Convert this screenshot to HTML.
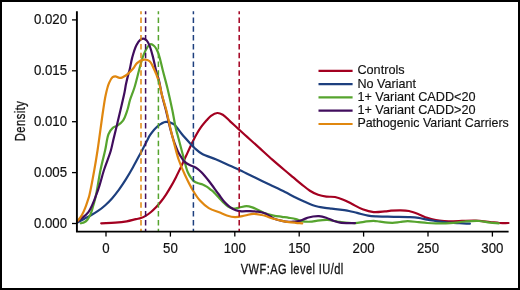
<!DOCTYPE html>
<html><head><meta charset="utf-8"><style>
html,body{margin:0;padding:0;background:#fff;}
body{width:520px;height:290px;overflow:hidden;}
svg{display:block;font-family:"Liberation Sans",sans-serif;will-change:transform;}
</style></head><body>
<svg width="520" height="290" viewBox="0 0 520 290">
<rect x="1" y="1" width="518" height="288" fill="#fff" stroke="#000" stroke-width="2"/>
<g fill="none" stroke-width="2.2" stroke-linejoin="round" stroke-linecap="round">
<path d="M101.20,223.30 C105.90,223.10 110.85,223.07 115.30,222.70 C119.34,222.37 123.20,221.94 126.80,221.30 C130.05,220.72 133.39,219.72 136.00,219.13 C137.92,218.70 139.37,218.61 141.00,218.05 C142.70,217.46 144.37,216.59 146.00,215.62 C147.71,214.60 149.38,213.36 151.00,212.02 C152.71,210.61 154.38,209.02 156.00,207.33 C157.72,205.54 159.38,203.57 161.00,201.51 C162.72,199.33 164.38,196.99 166.00,194.55 C167.71,191.97 169.37,189.23 171.00,186.40 C172.71,183.43 174.36,180.31 176.00,177.13 C177.70,173.82 179.35,170.37 181.00,166.90 C182.69,163.35 184.33,159.69 186.00,156.08 C187.67,152.47 189.31,148.76 191.00,145.23 C192.64,141.81 194.26,138.33 196.00,135.22 C197.60,132.37 199.20,129.75 201.00,127.23 C202.75,124.78 204.80,122.32 206.60,120.30 C208.11,118.60 209.27,117.00 211.00,115.80 C212.81,114.54 215.25,113.12 217.30,113.00 C219.17,112.89 220.94,113.64 222.80,114.70 C225.28,116.12 227.81,119.24 230.40,121.60 C233.11,124.07 236.13,126.84 238.70,129.20 C240.95,131.26 243.02,133.19 245.00,135.00 C246.76,136.60 248.10,137.79 250.00,139.50 C252.52,141.77 255.54,144.46 258.80,147.40 C262.89,151.09 268.10,155.94 272.60,159.90 C276.82,163.61 281.27,167.36 285.00,170.50 C288.03,173.06 290.53,175.10 293.30,177.40 C296.07,179.70 298.81,182.07 301.60,184.30 C304.35,186.50 307.05,188.91 309.90,190.70 C312.56,192.37 315.29,193.81 318.10,194.80 C320.80,195.75 323.59,196.23 326.40,196.60 C329.23,196.97 332.19,196.49 335.00,197.00 C337.83,197.52 340.57,198.59 343.30,199.70 C346.11,200.84 348.64,202.33 351.60,203.80 C355.01,205.50 358.85,207.91 362.60,209.30 C366.22,210.64 369.96,211.75 373.70,212.10 C377.42,212.45 381.83,211.68 385.00,211.40 C387.32,211.19 388.76,210.88 391.00,210.70 C393.84,210.48 397.59,210.23 400.70,210.30 C403.58,210.36 406.17,210.42 409.00,211.00 C412.12,211.64 415.51,213.02 418.60,214.20 C421.57,215.33 424.29,216.91 427.20,217.90 C430.05,218.87 432.99,219.58 435.90,220.10 C438.76,220.61 441.64,220.80 444.50,221.00 C447.34,221.20 449.51,221.29 453.00,221.30 C458.62,221.31 468.37,220.40 475.00,220.60 C480.48,220.77 485.57,221.56 490.00,222.00 C493.53,222.35 496.37,222.84 499.50,223.00 C502.54,223.16 505.50,223.00 508.50,223.00" stroke="#a30020"/>
<path d="M77.40,222.54 C79.60,221.34 81.76,220.15 84.00,218.95 C86.30,217.72 88.69,216.58 91.00,215.26 C93.36,213.92 95.71,212.55 98.00,210.95 C100.38,209.29 102.73,207.47 105.00,205.45 C107.40,203.31 109.73,200.94 112.00,198.40 C114.41,195.70 116.73,192.73 119.00,189.63 C121.40,186.34 123.72,182.80 126.00,179.16 C128.39,175.34 130.70,171.31 133.00,167.22 C135.37,163.00 137.68,158.60 140.00,154.23 C142.35,149.80 145.15,144.31 147.00,140.80 C148.20,138.53 148.62,137.21 150.00,135.20 C151.89,132.44 154.94,128.37 157.80,126.10 C160.30,124.12 163.19,122.18 165.90,121.90 C168.42,121.64 171.73,123.00 173.50,124.00 C174.67,124.67 175.04,125.33 176.00,126.40 C177.59,128.18 179.56,131.30 181.80,134.00 C184.54,137.31 188.96,142.05 191.40,144.70 C192.88,146.30 193.54,147.19 195.00,148.50 C196.88,150.19 199.07,152.19 201.90,153.80 C205.60,155.90 211.12,157.34 215.70,159.30 C220.32,161.28 225.21,163.68 229.50,165.60 C233.23,167.27 236.21,168.45 240.00,170.20 C244.57,172.31 250.00,175.07 255.00,177.50 C260.00,179.93 265.00,182.37 270.00,184.80 C275.00,187.23 280.51,189.86 285.00,192.10 C288.68,193.93 291.78,195.61 295.00,197.20 C297.96,198.66 300.72,199.99 303.60,201.30 C306.45,202.59 309.55,204.04 312.20,205.00 C314.38,205.79 316.20,206.34 318.30,206.80 C320.46,207.28 322.76,207.50 325.00,207.80 C327.23,208.10 329.35,208.32 331.70,208.60 C334.32,208.91 337.46,209.30 340.00,209.60 C342.16,209.86 343.71,209.90 346.00,210.30 C349.15,210.85 353.41,212.02 357.10,212.90 C360.78,213.78 364.67,215.02 368.10,215.60 C371.04,216.10 373.61,216.23 376.40,216.40 C379.24,216.57 382.12,216.53 385.00,216.60 C387.92,216.67 390.42,216.73 393.80,216.80 C398.38,216.89 405.45,216.85 410.00,217.10 C413.32,217.28 415.75,217.47 418.60,217.90 C421.48,218.33 424.32,219.18 427.20,219.70 C430.08,220.22 432.91,220.58 435.90,221.00 C439.07,221.45 442.15,221.95 445.70,222.30 C449.90,222.72 455.22,222.96 459.50,223.20 C463.21,223.41 466.43,223.53 469.90,223.70" stroke="#1d3f7e"/>
<path d="M80.80,223.30 C81.97,222.97 83.22,222.87 84.30,222.30 C85.43,221.70 86.45,220.82 87.40,219.70 C88.57,218.32 89.60,216.41 90.50,214.40 C91.56,212.04 92.32,208.94 93.10,206.30 C93.84,203.81 94.50,201.46 95.10,199.00 C95.70,196.53 96.09,194.65 96.70,191.50 C97.74,186.18 99.06,177.02 100.50,170.00 C101.90,163.19 103.79,156.30 105.20,150.00 C106.46,144.38 106.91,137.97 108.60,134.00 C109.74,131.31 111.15,129.22 112.80,127.80 C114.16,126.63 115.86,126.62 117.40,125.60 C119.26,124.36 121.44,122.80 123.00,120.60 C124.93,117.88 126.22,113.52 127.40,110.00 C128.52,106.66 128.93,103.46 130.00,100.00 C131.19,96.16 132.92,92.44 134.30,88.00 C135.97,82.64 137.61,75.44 139.10,70.00 C140.34,65.48 141.24,61.39 142.60,57.60 C143.81,54.23 145.08,50.66 146.70,48.30 C147.92,46.51 149.42,44.41 150.80,44.20 C151.92,44.03 153.25,45.16 154.20,46.00 C155.19,46.87 155.89,48.14 156.60,49.40 C157.38,50.78 158.01,52.34 158.60,54.00 C159.26,55.85 159.71,57.74 160.30,60.00 C161.06,62.90 161.74,66.19 162.70,70.00 C163.99,75.13 165.87,81.68 167.40,88.00 C169.08,94.95 170.83,102.90 172.30,110.00 C173.67,116.63 174.94,124.79 176.00,129.30 C176.58,131.78 176.92,132.50 177.60,135.00 C178.90,139.75 181.32,149.22 183.10,155.70 C184.68,161.46 186.03,168.01 187.70,172.00 C188.75,174.50 189.81,176.14 191.00,177.80 C192.03,179.23 193.03,180.58 194.30,181.50 C195.51,182.38 197.01,182.80 198.40,183.30 C199.78,183.80 201.23,183.96 202.60,184.50 C204.00,185.05 205.36,185.76 206.70,186.60 C208.13,187.50 209.60,188.75 210.90,189.80 C212.08,190.75 213.06,191.50 214.20,192.60 C215.58,193.93 217.08,195.78 218.50,197.30 C219.88,198.77 221.10,200.15 222.60,201.60 C224.27,203.21 226.18,205.31 228.10,206.50 C229.77,207.54 231.49,208.41 233.30,208.60 C235.15,208.80 237.05,207.97 239.10,207.60 C241.42,207.18 244.19,206.18 246.50,206.20 C248.55,206.22 250.40,206.80 252.30,207.40 C254.27,208.02 256.10,208.96 258.10,209.90 C260.32,210.94 262.52,212.47 265.00,213.40 C267.66,214.40 270.73,215.03 273.60,215.60 C276.40,216.16 279.34,216.42 282.00,216.80 C284.41,217.15 286.60,217.42 288.90,217.80 C291.20,218.18 293.82,218.55 295.80,219.10 C297.36,219.53 298.46,220.19 299.90,220.60 C301.45,221.04 303.00,221.42 304.80,221.60 C306.96,221.82 309.76,221.80 312.00,221.60 C313.99,221.42 315.47,220.87 317.60,220.60 C320.38,220.25 324.20,219.77 327.30,219.90 C330.18,220.02 333.27,220.83 335.60,221.20 C337.30,221.47 338.09,221.67 340.00,221.90 C343.51,222.32 350.64,223.24 355.00,223.10 C358.39,222.99 360.94,222.18 364.00,221.80 C367.17,221.41 370.82,220.74 373.70,220.80 C376.03,220.85 377.54,221.42 380.00,221.70 C383.44,222.10 388.77,222.83 392.40,222.80 C395.24,222.78 397.47,222.28 400.00,222.00 C402.53,221.72 404.83,221.13 407.60,221.10 C410.93,221.07 415.16,221.87 418.60,222.20 C421.64,222.49 424.32,222.80 427.20,223.00 C430.09,223.20 432.65,223.35 435.90,223.40 C440.03,223.47 445.23,223.50 450.00,223.20 C454.93,222.89 460.10,221.87 465.00,221.50 C469.69,221.15 474.46,220.77 478.80,221.00 C482.71,221.21 486.40,222.21 489.90,222.60 C493.02,222.95 495.83,223.07 498.80,223.30" stroke="#56a42e"/>
<path d="M78.10,221.10 C81.53,218.10 85.41,216.20 88.40,212.10 C92.37,206.66 95.34,197.26 98.00,190.00 C100.47,183.24 101.86,176.56 104.00,170.00 C106.10,163.56 109.08,156.51 110.70,151.00 C111.91,146.87 112.36,143.94 113.30,140.00 C114.40,135.43 115.71,130.17 116.90,125.20 C118.11,120.17 119.27,115.28 120.50,110.00 C121.83,104.26 123.63,96.81 124.60,92.00 C125.24,88.81 125.45,86.66 126.00,84.00 C126.55,81.33 127.25,78.57 127.90,76.00 C128.51,73.58 129.17,71.63 129.80,69.00 C130.60,65.67 131.15,61.45 132.20,57.60 C133.32,53.52 134.72,48.40 136.40,45.20 C137.62,42.88 139.11,40.76 140.50,39.70 C141.42,39.00 142.33,38.55 143.30,38.60 C144.39,38.66 145.72,39.41 146.70,40.40 C147.99,41.70 148.85,43.96 149.80,46.30 C151.06,49.41 152.10,53.73 153.10,57.60 C154.14,61.62 154.87,66.01 155.90,70.00 C156.88,73.79 158.14,77.09 159.10,81.00 C160.17,85.36 160.79,90.23 161.90,95.00 C163.07,100.05 164.63,105.03 166.00,110.50 C167.53,116.62 169.18,124.59 170.60,130.00 C171.62,133.90 172.50,136.92 173.50,140.00 C174.37,142.69 175.31,145.25 176.20,147.50 C176.94,149.38 177.58,151.03 178.40,152.60 C179.16,154.05 179.99,155.22 180.90,156.60 C181.91,158.14 182.80,160.01 184.20,161.40 C185.69,162.88 187.93,164.19 189.70,165.10 C191.18,165.86 192.66,166.06 194.00,166.70 C195.28,167.31 196.44,167.96 197.60,168.80 C198.85,169.70 199.84,170.62 201.20,172.00 C203.27,174.10 205.94,177.29 208.50,180.50 C211.64,184.43 215.52,190.01 218.50,194.00 C220.89,197.19 222.87,200.27 225.00,202.60 C226.69,204.44 228.19,205.81 230.00,207.10 C231.79,208.38 233.81,209.60 235.80,210.30 C237.68,210.96 239.49,211.14 241.60,211.30 C244.11,211.48 247.14,211.03 249.90,211.10 C252.64,211.17 255.46,211.27 258.10,211.70 C260.65,212.12 263.05,212.58 265.50,213.60 C268.22,214.73 270.80,217.17 273.60,218.40 C276.30,219.58 279.32,220.31 282.00,220.90 C284.39,221.43 286.77,221.81 288.90,221.90 C290.72,221.98 292.24,221.78 294.00,221.60 C295.92,221.40 298.14,221.18 300.00,220.70 C301.71,220.26 303.30,219.46 304.80,218.90 C306.11,218.41 307.19,217.89 308.50,217.50 C309.91,217.08 311.38,216.73 313.00,216.50 C314.85,216.23 316.92,215.94 319.00,216.10 C321.30,216.28 323.84,216.95 326.20,217.70 C328.61,218.47 330.94,219.87 333.30,220.70 C335.54,221.49 337.29,222.18 340.00,222.60 C343.98,223.22 350.00,222.93 355.00,223.10" stroke="#400d5d"/>
<path d="M77.40,221.20 C78.27,220.13 79.20,219.11 80.00,218.00 C80.80,216.90 81.46,215.97 82.20,214.60 C83.22,212.72 84.39,209.89 85.30,207.60 C86.15,205.46 86.81,203.39 87.50,201.30 C88.17,199.26 88.71,197.95 89.40,195.20 C90.79,189.68 92.88,177.92 94.30,170.00 C95.57,162.96 96.41,157.82 97.60,150.00 C99.28,138.96 101.65,120.14 103.20,110.00 C104.15,103.76 104.64,99.62 105.70,94.90 C106.65,90.64 107.70,86.09 109.10,82.90 C110.12,80.56 111.29,78.23 112.60,77.20 C113.47,76.52 114.44,76.26 115.40,76.30 C116.44,76.34 117.59,77.34 118.60,77.60 C119.44,77.82 120.21,78.02 121.00,77.90 C121.84,77.78 122.58,77.31 123.50,76.80 C124.79,76.08 126.41,75.03 127.90,73.80 C129.70,72.31 131.83,70.18 133.40,68.30 C134.81,66.60 135.37,64.50 137.00,63.10 C138.81,61.55 141.77,59.93 144.00,59.70 C145.91,59.51 147.95,59.92 149.50,61.10 C151.46,62.59 152.60,66.07 154.00,69.00 C155.63,72.40 157.24,76.38 158.50,80.40 C159.84,84.69 160.47,89.26 161.70,94.00 C163.06,99.25 164.98,104.90 166.40,110.50 C167.85,116.23 168.95,122.31 170.30,128.00 C171.59,133.46 172.89,138.68 174.30,144.00 C175.72,149.34 177.00,154.80 178.80,160.00 C180.58,165.13 182.70,170.03 185.00,175.00 C187.36,180.10 190.10,185.69 192.80,190.20 C195.12,194.08 197.26,197.57 200.00,200.60 C202.62,203.50 205.52,206.11 208.80,208.10 C212.14,210.13 216.64,211.25 219.90,212.60 C222.48,213.66 224.36,214.76 226.80,215.50 C229.38,216.28 232.13,217.05 235.00,217.10 C238.16,217.15 241.83,216.08 245.00,215.50 C247.90,214.97 250.53,213.88 253.30,213.80 C256.06,213.72 259.45,214.59 261.60,215.00 C262.99,215.26 263.62,215.40 265.00,215.80 C267.23,216.45 270.73,217.94 273.60,218.80 C276.40,219.64 279.33,220.33 282.00,220.90 C284.40,221.41 286.59,221.78 288.90,222.10 C291.19,222.42 293.54,222.60 295.80,222.80 C297.97,223.00 300.07,223.13 302.20,223.30" stroke="#e0870f"/>
</g>
<g stroke-width="1.5" stroke-dasharray="5.5 3.3" stroke-dashoffset="2.5">
<line x1="141.0" y1="11.2" x2="141.0" y2="231.5" stroke="#e0870f"/>
<line x1="145.6" y1="11.2" x2="145.6" y2="231.5" stroke="#400d5d"/>
<line x1="158.4" y1="11.2" x2="158.4" y2="231.5" stroke="#56a42e"/>
<line x1="193.4" y1="11.2" x2="193.4" y2="231.5" stroke="#1d3f7e"/>
<line x1="239.2" y1="11.2" x2="239.2" y2="231.5" stroke="#a30020"/>
</g>
<g stroke="#000" stroke-width="1.9" fill="none">
<path d="M76.9,11.2 V231.6 H508.6"/>
</g>
<g stroke="#000" stroke-width="1.3">
<line x1="72" y1="223.5" x2="77" y2="223.5"/>
<line x1="72" y1="172.6" x2="77" y2="172.6"/>
<line x1="72" y1="121.7" x2="77" y2="121.7"/>
<line x1="72" y1="70.8" x2="77" y2="70.8"/>
<line x1="72" y1="19.9" x2="77" y2="19.9"/>
<line x1="106.0" y1="231.5" x2="106.0" y2="236.6"/>
<line x1="170.4" y1="231.5" x2="170.4" y2="236.6"/>
<line x1="234.8" y1="231.5" x2="234.8" y2="236.6"/>
<line x1="299.2" y1="231.5" x2="299.2" y2="236.6"/>
<line x1="363.6" y1="231.5" x2="363.6" y2="236.6"/>
<line x1="428.0" y1="231.5" x2="428.0" y2="236.6"/>
<line x1="492.4" y1="231.5" x2="492.4" y2="236.6"/>
</g>
<g font-size="14.1" fill="#111" stroke="#111" stroke-width="0.2">
<text transform="translate(67.1,227.5) scale(0.94,1)" text-anchor="end">0.000</text>
<text transform="translate(67.1,176.6) scale(0.94,1)" text-anchor="end">0.005</text>
<text transform="translate(67.1,125.7) scale(0.94,1)" text-anchor="end">0.010</text>
<text transform="translate(67.1,74.8) scale(0.94,1)" text-anchor="end">0.015</text>
<text transform="translate(67.1,23.9) scale(0.94,1)" text-anchor="end">0.020</text>
<text transform="translate(106.0,253.0) scale(0.94,1)" text-anchor="middle">0</text>
<text transform="translate(170.4,253.0) scale(0.94,1)" text-anchor="middle">50</text>
<text transform="translate(234.8,253.0) scale(0.94,1)" text-anchor="middle">100</text>
<text transform="translate(299.2,253.0) scale(0.94,1)" text-anchor="middle">150</text>
<text transform="translate(363.6,253.0) scale(0.94,1)" text-anchor="middle">200</text>
<text transform="translate(428.0,253.0) scale(0.94,1)" text-anchor="middle">250</text>
<text transform="translate(492.4,253.0) scale(0.94,1)" text-anchor="middle">300</text>
</g>
<g stroke-width="2.2">
<line x1="318.5" y1="70.8" x2="352.6" y2="70.8" stroke="#a30020"/>
<line x1="318.5" y1="84.1" x2="352.6" y2="84.1" stroke="#1d3f7e"/>
<line x1="318.5" y1="97.4" x2="352.6" y2="97.4" stroke="#56a42e"/>
<line x1="318.5" y1="110.7" x2="352.6" y2="110.7" stroke="#400d5d"/>
<line x1="318.5" y1="124.0" x2="352.6" y2="124.0" stroke="#e0870f"/>
</g>
<g font-size="13" fill="#111" stroke="#111" stroke-width="0.15">
<text x="357.4" y="74.3" textLength="47.2" lengthAdjust="spacingAndGlyphs">Controls</text>
<text x="357.4" y="87.5" textLength="58.6" lengthAdjust="spacingAndGlyphs">No Variant</text>
<text x="357.4" y="100.7" textLength="118.2" lengthAdjust="spacingAndGlyphs">1+ Variant CADD&lt;20</text>
<text x="357.4" y="113.9" textLength="118.2" lengthAdjust="spacingAndGlyphs">1+ Variant CADD&gt;20</text>
<text x="357.4" y="127.1" textLength="151.4" lengthAdjust="spacingAndGlyphs">Pathogenic Variant Carriers</text>
</g>
<text transform="translate(25.1,141.2) rotate(-90) scale(0.74,1)" font-size="15.2" letter-spacing="0.6" fill="#111" stroke="#111" stroke-width="0.3">Density</text>
<text transform="translate(240.8,274) scale(0.74,1)" font-size="15" letter-spacing="0.55" fill="#111" stroke="#111" stroke-width="0.3">VWF:AG level IU/dl</text>
</svg>
</body></html>
